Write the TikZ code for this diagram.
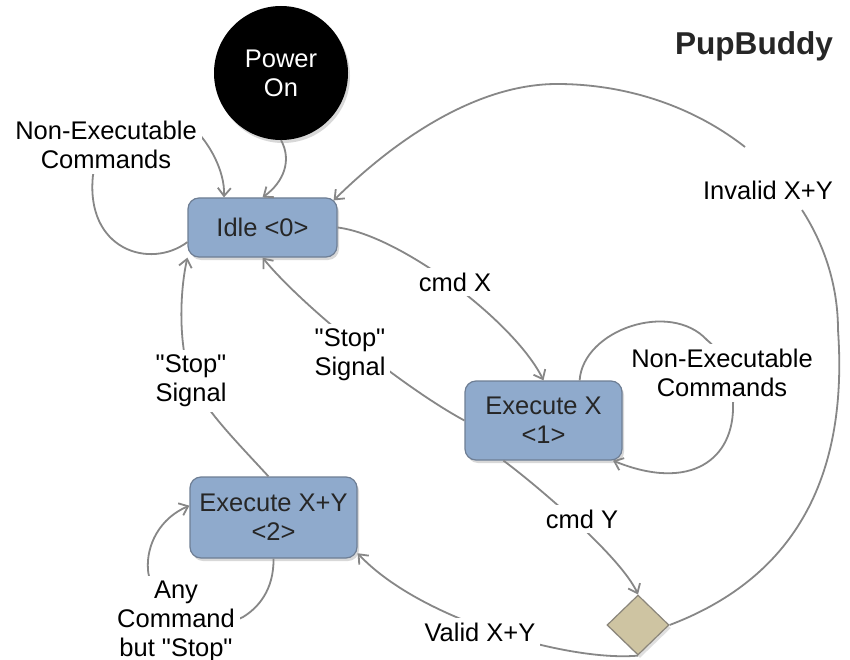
\documentclass[tikz,border=0pt]{standalone}
\usepackage{fontspec}
\setmainfont{Liberation Sans}[Ligatures=TeXOff]
\usetikzlibrary{arrows.meta,shapes.geometric,shadows}
\definecolor{boxfill}{HTML}{8FAACC}
\definecolor{boxdraw}{HTML}{6E7E94}
\definecolor{linegray}{HTML}{878787}
\definecolor{diafill}{HTML}{CEC4A2}
\definecolor{diadraw}{HTML}{8A857A}
\definecolor{txt}{HTML}{262626}
\begin{document}
\begin{tikzpicture}[x=1pt,y=-1pt,
  every node/.style={font=\fontsize{25.5}{29}\selectfont, text=txt},
  state/.style={draw=boxdraw, line width=1.2pt, fill=boxfill, rounded corners=11pt,
    align=center, inner sep=0pt,
    drop shadow={shadow xshift=2pt, shadow yshift=-3pt, opacity=0.3}},
  lbl/.style={fill=white, align=center, inner sep=5pt, text=black},
  conn/.style={draw=linegray, line width=1.8pt},
  arr/.style={conn, -{Straight Barb[length=8pt,width=13pt]}},
]
\fill[white] (0,0) rectangle (850,660);
\useasboundingbox (0,0) rectangle (850,660);

% states
\node[circle, fill=black, minimum size=134pt, inner sep=0pt, align=center, text=white,
  drop shadow={shadow xshift=2pt, shadow yshift=-3pt, opacity=0.3}] (power) at (281,73) {Power\\On};
\node[state, minimum width=149pt, minimum height=59pt] (idle) at (262.5,227.5) {Idle <0>};
\node[state, minimum width=157pt, minimum height=79pt] (execx) at (543.5,420.5) {Execute X\\<1>};
\node[state, minimum width=167pt, minimum height=81pt] (exy) at (273.5,517.5) {Execute X+Y\\<2>};
\node[diamond, draw=diadraw, fill=diafill, line width=1.2pt, minimum width=62pt, minimum height=60pt,
  inner sep=0pt, drop shadow={shadow xshift=2pt, shadow yshift=-3pt, opacity=0.25}] (dia) at (638,625) {};

\coordinate (invA) at (802,210);
\coordinate (invB) at (745,147);

% connectors
\draw[arr] (power.south) .. controls (292,160) and (284,182) .. (idle.north);
\draw[arr] (idle.191) .. controls (150,270) and (85,250) .. (93,175)
  .. controls (95,150) and (188,123) .. (198,133)
  .. controls (208,143) and (225,170) .. (idle.142);
\draw[conn] (dia.east) .. controls (775,585) and (850,500) .. (838,330)
  .. controls (838,288) and (825.7,246.7) .. (invA);
\draw[arr] (invB) .. controls (693.4,106.5) and (626.5,84) .. (557,84)
  .. controls (480,84) and (400,135) .. ([shift={(-4,3)}]idle.north east);
\draw[arr] (idle.east) .. controls (400,235) and (515,322) .. (execx.north);
\draw[arr] (execx.west) .. controls (405,388.5) and (303,307) .. (idle.south);
\draw[arr] (exy.97) .. controls (235,440) and (205,410) .. (192,381)
  .. controls (180,355) and (178,300) .. (idle.south west);
\draw[arr] (execx.48) .. controls (583,330) and (670,300) .. (707,340)
  .. controls (725,355) and (738,380) .. (733,403)
  .. controls (735,460) and (690,492) .. (execx.-30);
\draw[arr] (exy.south) .. controls (274,590) and (258,608) .. (243,617)
  .. controls (200,640) and (150,600) .. (148,570)
  .. controls (146,545) and (160,518) .. (exy.172);
\draw[arr] (execx.-135) .. controls (530,480) and (620,555) .. (dia.north);
\draw[arr] (dia.south) .. controls (570,662) and (420,620) .. (exy.-23);

% labels
\node[lbl] (nonexL) at (106,145) {Non-Executable\\Commands};
\node[lbl] (nonexR) at (722,373) {Non-Executable\\Commands};
\node[lbl] (invalid) at (768,190) {Invalid X+Y};
\node[lbl] (cmdx) at (455,282) {cmd X};
\node[lbl] (stopM) at (350,355) {"Stop"\\Signal};
\node[lbl] (stopL) at (191,381) {"Stop"\\Signal};
\node[lbl] (cmdy) at (582,519) {cmd Y};
\node[lbl] (valid) at (480,632) {Valid X+Y};
\node[lbl] (anycmd) at (176,621) {Any\\Command\\but "Stop"};
\node[anchor=base, font=\fontsize{31.6}{36}\selectfont\bfseries] (title) at (754,55) {PupBuddy};
\end{tikzpicture}
\end{document}
